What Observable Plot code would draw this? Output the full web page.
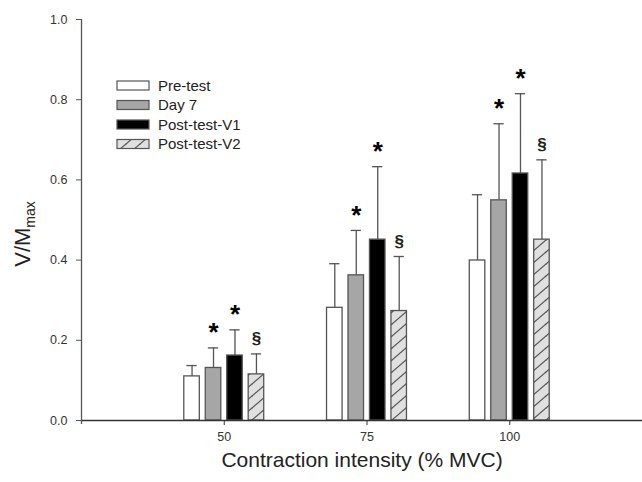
<!DOCTYPE html>
<html><head><meta charset="utf-8">
<script src="https://cdn.jsdelivr.net/npm/d3@7"></script>
<script src="https://cdn.jsdelivr.net/npm/@observablehq/plot@0.6"></script>
<style>
body{margin:0;background:#fff;}
#wrap{position:relative;width:642px;height:482px;}
</style></head><body><div id="wrap"></div>
<script>
// ---- data ----
const intensities = [50, 75, 100];
const series = ["Pre-test", "Day 7", "Post-test-V1", "Post-test-V2"];
const preMean  = [0.110, 0.281, 0.399];
const day7Mean = [0.131, 0.362, 0.549];
const v1Mean   = [0.162, 0.451, 0.616];
const v2Mean   = [0.115, 0.273, 0.451];
const preSD    = [0.027, 0.110, 0.164];
const day7SD   = [0.050, 0.112, 0.191];
const v1SD     = [0.064, 0.182, 0.199];
const v2SD     = [0.051, 0.136, 0.199];
const markers  = ["", "*", "*", "§"];
const yTicks   = [0, 0.2, 0.4, 0.6, 0.8, 1.0];
const xTitle   = "Contraction intensity (% MVC)";

const means = [preMean, day7Mean, v1Mean, v2Mean];
const sds = [preSD, day7SD, v1SD, v2SD];
const fills = ["white", "#a6a6a6", "black", "url(#hatch)"];

const rows = [];
series.forEach((s, k) => intensities.forEach((x, i) =>
  rows.push({series: s, k, intensity: x, mean: means[k][i], sd: sds[k][i], mark: markers[k]})));

const step = 3.76, half = 1.36, cap = 0.9;
const cx = d => d.intensity + (d.k - 1.5) * step;
const upper = d => d.mean + d.sd;
const font = "'Liberation Sans', Arial, Helvetica, sans-serif";
const ink = "#555";

const plot = Plot.plot({
  width: 642, height: 482,
  marginLeft: 81, marginRight: 0, marginTop: 19, marginBottom: 62,
  style: {fontFamily: font, background: "white", color: "#333", overflow: "visible"},
  x: {type: "linear", domain: [25, 125], range: [81, 652]},
  y: {domain: [0, 1]},
  color: {type: "ordinal", domain: series, range: fills},
  marks: [
    Plot.rect(rows, {x1: d => cx(d) - half, x2: d => cx(d) + half, y1: 0, y2: "mean",
      fill: "series", stroke: ink, strokeWidth: 1.3}),
    Plot.ruleX(rows, {x: cx, y1: "mean", y2: upper, stroke: ink, strokeWidth: 1.3}),
    Plot.ruleY(rows, {y: upper, x1: d => cx(d) - cap, x2: d => cx(d) + cap, stroke: ink, strokeWidth: 1.3}),
    Plot.text(rows.filter(d => d.mark === "*"), {x: cx, y: upper, text: "mark",
      fontSize: 26, fontWeight: "bold", fill: "black", dy: -15}),
    Plot.text(rows.filter(d => d.mark === "§"), {x: cx, y: upper, text: "mark",
      fontSize: 17, fontWeight: "bold", fill: "#222", dy: -15}),
    Plot.ruleY([0], {stroke: "#333", strokeWidth: 1.3}),
    Plot.ruleX([25], {y1: -0.01, y2: 1, stroke: "#555", strokeWidth: 1.3}),
    Plot.axisY({ticks: yTicks, tickFormat: d3.format(".1f"), tickSize: 5, tickPadding: 9,
      fontSize: 12.5, label: null, stroke: "#555", fill: "#333"}),
    Plot.axisX({ticks: intensities, tickSize: 5, tickPadding: 7, fontSize: 12.5, label: null,
      stroke: "#333", fill: "#333"}),
    Plot.text([xTitle], {frameAnchor: "bottom", dy: 46, fontSize: 21, fill: "#222"})
  ]
});

document.getElementById("wrap").appendChild(plot);
const svg = d3.select(plot);

// hatch pattern
const defs = svg.insert("defs", ":first-child");
const pat = defs.append("pattern").attr("id", "hatch").attr("patternUnits", "userSpaceOnUse")
  .attr("width", 14).attr("height", 12);
pat.append("rect").attr("width", 14).attr("height", 12).attr("fill", "#e0e0e0");
pat.append("line").attr("x1", 0).attr("y1", 12).attr("x2", 14).attr("y2", 0)
  .attr("stroke", "#555").attr("stroke-width", 1.2);
pat.append("line").attr("x1", -1).attr("y1", 1).attr("x2", 1).attr("y2", -0.7)
  .attr("stroke", "#555").attr("stroke-width", 1.2);
pat.append("line").attr("x1", 13).attr("y1", 12.9).attr("x2", 15).attr("y2", 11)
  .attr("stroke", "#555").attr("stroke-width", 1.2);

// y label with subscript
const yl = svg.append("text").attr("transform", "translate(30,234) rotate(-90)")
  .attr("text-anchor", "middle").attr("fill", "#222")
  .style("font-family", font).style("font-size", "22px");
yl.append("tspan").text("V/M");
yl.append("tspan").attr("dy", 5).style("font-size", "14px").text("max");

// legend
const lg = svg.append("g").style("font-family", font).attr("text-anchor", "start");
series.forEach((s, i) => {
  const cy = 85.5 + i * 19.5;
  lg.append("rect").attr("x", 117).attr("y", cy - 4.5).attr("width", 32).attr("height", 9)
    .attr("fill", fills[i]).attr("stroke", ink).attr("stroke-width", 1.2);
  lg.append("text").attr("x", 158).attr("y", cy).attr("dy", "0.36em")
    .attr("text-anchor", "start")
    .attr("fill", "#222").style("font-size", "15px").text(s);
});
</script>
</body></html>
